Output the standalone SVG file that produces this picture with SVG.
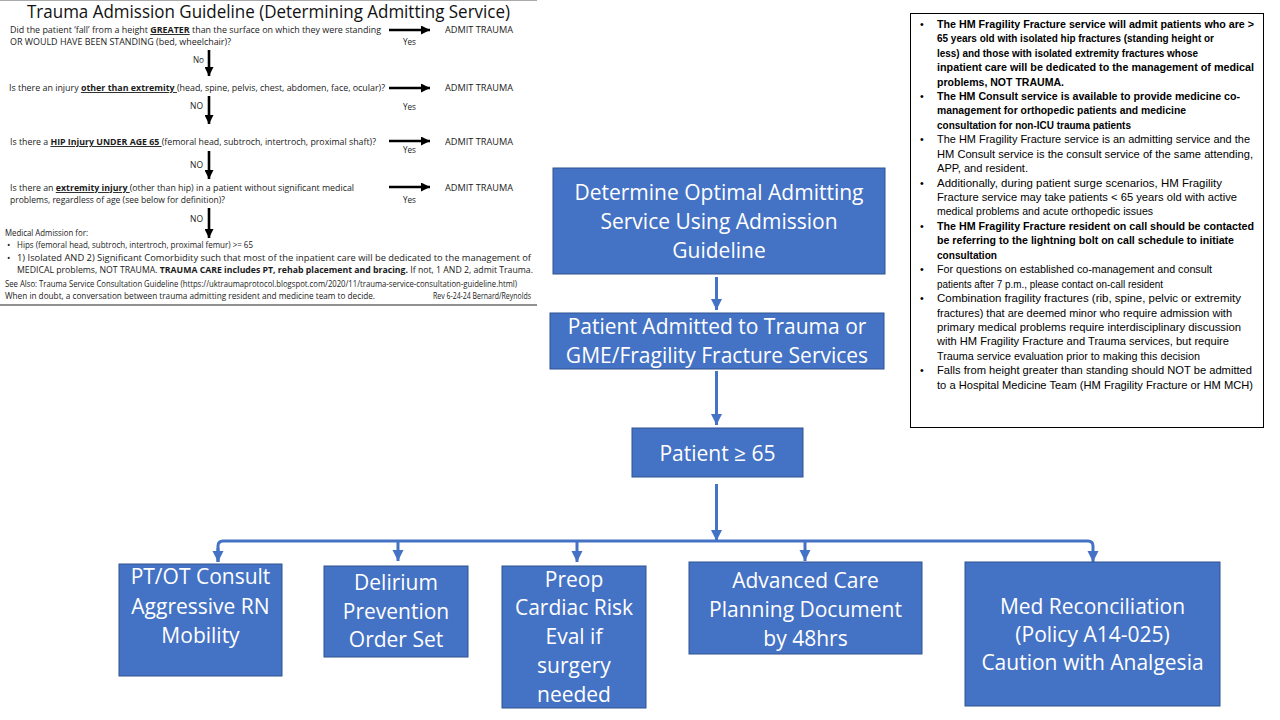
<svg xmlns="http://www.w3.org/2000/svg" width="1280" height="720" viewBox="0 0 1280 720">
<style>
.g{font-family:"Open Sans","Liberation Sans",sans-serif;font-size:9px;fill:#1a1a1a}
.b{font-weight:bold}
.u{text-decoration:underline}
.rt{font-family:"Liberation Sans","Open Sans",sans-serif;font-size:10.7px;fill:#000}
.nb{fill:#4472C4;stroke:#2F528F;stroke-width:1}
.nt{font-family:"Open Sans","Liberation Sans",sans-serif;font-size:21px;fill:#fff;text-anchor:middle}
.ka{stroke:#000;stroke-width:2.6;fill:none}
.ca{stroke:#4472C4;stroke-width:3;fill:none}
</style>
<defs>
<marker id="bh" viewBox="0 0 10 10" refX="10" refY="5" markerWidth="10" markerHeight="9" markerUnits="userSpaceOnUse" orient="auto"><path d="M0,0 L10,5 L0,10 z" fill="#000"/></marker>
<marker id="ah" viewBox="0 0 10 10" refX="10" refY="5" markerWidth="11" markerHeight="13" markerUnits="userSpaceOnUse" orient="auto"><path d="M0,0 L10,5 L0,10 z" fill="#4472C4"/></marker>
</defs>
<rect width="1280" height="720" fill="#fff"/>

<g id="guideline">
<line x1="0" y1="0.5" x2="537" y2="0.5" stroke="#aaa" stroke-width="1"/>
<line x1="0" y1="305" x2="537" y2="305" stroke="#222" stroke-width="1.2"/>
<text x="27" y="18" font-family="Open Sans, Liberation Sans, sans-serif" font-size="18.5" fill="#111" textLength="483" lengthAdjust="spacingAndGlyphs">Trauma Admission Guideline (Determining Admitting Service)</text>
<text class="g" x="10" y="33" textLength="371" lengthAdjust="spacingAndGlyphs">Did the patient ‘fall’ from a height <tspan class="b u">GREATER</tspan> than the surface on which they were standing</text>
<text class="g" x="10" y="45" textLength="221" lengthAdjust="spacingAndGlyphs">OR WOULD HAVE BEEN STANDING (bed, wheelchair)?</text>
<text class="g" x="445" y="33" textLength="68" lengthAdjust="spacingAndGlyphs">ADMIT TRAUMA</text>
<text class="g" x="403" y="45" textLength="13" lengthAdjust="spacingAndGlyphs">Yes</text>
<text class="g" x="193" y="63" textLength="11" lengthAdjust="spacingAndGlyphs">No</text>
<text class="g" x="9" y="91" textLength="376" lengthAdjust="spacingAndGlyphs">Is there an injury <tspan class="b u">other than extremity </tspan>(head, spine, pelvis, chest, abdomen, face, ocular)?</text>
<text class="g" x="445" y="91" textLength="68" lengthAdjust="spacingAndGlyphs">ADMIT TRAUMA</text>
<text class="g" x="190" y="109" textLength="13" lengthAdjust="spacingAndGlyphs">NO</text>
<text class="g" x="403" y="110" textLength="13" lengthAdjust="spacingAndGlyphs">Yes</text>
<text class="g" x="10" y="145" textLength="366" lengthAdjust="spacingAndGlyphs">Is there a <tspan class="b u">HIP Injury UNDER AGE 65 </tspan>(femoral head, subtroch, intertroch, proximal shaft)?</text>
<text class="g" x="445" y="145" textLength="68" lengthAdjust="spacingAndGlyphs">ADMIT TRAUMA</text>
<text class="g" x="403" y="153" textLength="13" lengthAdjust="spacingAndGlyphs">Yes</text>
<text class="g" x="190" y="168" textLength="13" lengthAdjust="spacingAndGlyphs">NO</text>
<text class="g" x="10" y="191" textLength="344" lengthAdjust="spacingAndGlyphs">Is there an <tspan class="b u">extremity injury </tspan>(other than hip) in a patient without significant medical</text>
<text class="g" x="10" y="203" textLength="215" lengthAdjust="spacingAndGlyphs">problems, regardless of age (see below for definition)?</text>
<text class="g" x="445" y="191" textLength="68" lengthAdjust="spacingAndGlyphs">ADMIT TRAUMA</text>
<text class="g" x="403" y="203" textLength="13" lengthAdjust="spacingAndGlyphs">Yes</text>
<text class="g" x="190" y="222" textLength="13" lengthAdjust="spacingAndGlyphs">NO</text>
<text class="g" x="5" y="236" textLength="83" lengthAdjust="spacingAndGlyphs">Medical Admission for:</text>
<text class="g" x="7" y="248">•</text>
<text class="g" x="17" y="248" textLength="236" lengthAdjust="spacingAndGlyphs">Hips (femoral head, subtroch, intertroch, proximal femur) &gt;= 65</text>
<text class="g" x="7" y="261">•</text>
<text class="g" x="17" y="261" textLength="514" lengthAdjust="spacingAndGlyphs">1) Isolated AND 2) Significant Comorbidity such that most of the inpatient care will be dedicated to the management of</text>
<text class="g" x="17" y="273" textLength="516" lengthAdjust="spacingAndGlyphs">MEDICAL problems, NOT TRAUMA. <tspan class="b">TRAUMA CARE includes PT, rehab placement and bracing.</tspan> If not, 1 AND 2, admit Trauma.</text>
<text class="g" x="5" y="287" font-size="8.2" textLength="512" lengthAdjust="spacingAndGlyphs">See Also: Trauma Service Consultation Guideline (https://uktraumaprotocol.blogspot.com/2020/11/trauma-service-consultation-guideline.html)</text>
<text class="g" x="5" y="299" textLength="370" lengthAdjust="spacingAndGlyphs">When in doubt, a conversation between trauma admitting resident and medicine team to decide.</text>
<text class="g" x="433" y="299" font-size="6" textLength="98" lengthAdjust="spacingAndGlyphs">Rev 6-24-24 Bernard/Reynolds</text>
<line class="ka" x1="389" y1="30" x2="430" y2="30" marker-end="url(#bh)"/>
<line class="ka" x1="389" y1="88" x2="430" y2="88" marker-end="url(#bh)"/>
<line class="ka" x1="389" y1="141" x2="430" y2="141" marker-end="url(#bh)"/>
<line class="ka" x1="389" y1="187" x2="430" y2="187" marker-end="url(#bh)"/>
<line class="ka" x1="209" y1="50" x2="209" y2="76" marker-end="url(#bh)"/>
<line class="ka" x1="209" y1="96" x2="209" y2="124" marker-end="url(#bh)"/>
<line class="ka" x1="209" y1="151" x2="209" y2="179" marker-end="url(#bh)"/>
<line class="ka" x1="209" y1="208" x2="209" y2="238" marker-end="url(#bh)"/>
</g>

<g id="notes">
<rect x="910.5" y="13.5" width="353" height="414" fill="#fff" stroke="#000" stroke-width="1"/>
<g class="rt">
<text x="920" y="27.7">•</text><text x="920" y="99.9">•</text><text x="920" y="143.2">•</text><text x="920" y="186.5">•</text><text x="920" y="229.8">•</text><text x="920" y="273.1">•</text><text x="920" y="302">•</text><text x="920" y="374.2">•</text>
<text class="b" x="937" y="27.7" textLength="317" lengthAdjust="spacingAndGlyphs">The HM Fragility Fracture service will admit patients who are &gt;</text>
<text class="b" x="937" y="42.1" textLength="277" lengthAdjust="spacingAndGlyphs">65 years old with isolated hip fractures (standing height or</text>
<text class="b" x="937" y="56.6" textLength="261" lengthAdjust="spacingAndGlyphs">less) and those with isolated extremity fractures whose</text>
<text class="b" x="937" y="71" textLength="317" lengthAdjust="spacingAndGlyphs">inpatient care will be dedicated to the management of medical</text>
<text class="b" x="937" y="85.5" textLength="127" lengthAdjust="spacingAndGlyphs">problems, NOT TRAUMA.</text>
<text class="b" x="937" y="99.9" textLength="303" lengthAdjust="spacingAndGlyphs">The HM Consult service is available to provide medicine co-</text>
<text class="b" x="937" y="114.3" textLength="249" lengthAdjust="spacingAndGlyphs">management for orthopedic patients and medicine</text>
<text class="b" x="937" y="128.8" textLength="194" lengthAdjust="spacingAndGlyphs">consultation for non-ICU trauma patients</text>
<text x="937" y="143.2" textLength="313" lengthAdjust="spacingAndGlyphs">The HM Fragility Fracture service is an admitting service and the</text>
<text x="937" y="157.7" textLength="316" lengthAdjust="spacingAndGlyphs">HM Consult service is the consult service of the same attending,</text>
<text x="937" y="172.1" textLength="91" lengthAdjust="spacingAndGlyphs">APP, and resident.</text>
<text x="937" y="186.5" textLength="285" lengthAdjust="spacingAndGlyphs">Additionally, during patient surge scenarios, HM Fragility</text>
<text x="937" y="201" textLength="300" lengthAdjust="spacingAndGlyphs">Fracture service may take patients &lt; 65 years old with active</text>
<text x="937" y="215.4" textLength="216" lengthAdjust="spacingAndGlyphs">medical problems and acute orthopedic issues</text>
<text class="b" x="937" y="229.8" textLength="317" lengthAdjust="spacingAndGlyphs">The HM Fragility Fracture resident on call should be contacted</text>
<text class="b" x="937" y="244.3" textLength="297" lengthAdjust="spacingAndGlyphs">be referring to the lightning bolt on call schedule to initiate</text>
<text class="b" x="937" y="258.7" textLength="60" lengthAdjust="spacingAndGlyphs">consultation</text>
<text x="937" y="273.1" textLength="275" lengthAdjust="spacingAndGlyphs">For questions on established co-management and consult</text>
<text x="937" y="287.6" textLength="226" lengthAdjust="spacingAndGlyphs">patients after 7 p.m., please contact on-call resident</text>
<text x="937" y="302" textLength="304" lengthAdjust="spacingAndGlyphs">Combination fragility fractures (rib, spine, pelvic or extremity</text>
<text x="937" y="316.5" textLength="295" lengthAdjust="spacingAndGlyphs">fractures) that are deemed minor who require admission with</text>
<text x="937" y="330.9" textLength="304" lengthAdjust="spacingAndGlyphs">primary medical problems require interdisciplinary discussion</text>
<text x="937" y="345.3" textLength="292" lengthAdjust="spacingAndGlyphs">with HM Fragility Fracture and Trauma services, but require</text>
<text x="937" y="359.8" textLength="263" lengthAdjust="spacingAndGlyphs">Trauma service evaluation prior to making this decision</text>
<text x="937" y="374.2" textLength="315" lengthAdjust="spacingAndGlyphs">Falls from height greater than standing should NOT be admitted</text>
<text x="937" y="388.7" textLength="316" lengthAdjust="spacingAndGlyphs">to a Hospital Medicine Team (HM Fragility Fracture or HM MCH)</text>
</g>
</g>

<g id="connectors">
<line class="ca" x1="716.5" y1="277" x2="716.5" y2="310" marker-end="url(#ah)"/>
<line class="ca" x1="716.5" y1="371" x2="716.5" y2="425" marker-end="url(#ah)"/>
<line class="ca" x1="716.5" y1="484" x2="716.5" y2="541" marker-end="url(#ah)"/>
<path class="ca" d="M218,562 V546 Q218,541 223,541 H1088 Q1093,541 1093,546 V562" marker-end="url(#ah)"/>
<line class="ca" x1="218" y1="548" x2="218" y2="562" marker-end="url(#ah)"/>
<line class="ca" x1="398" y1="541" x2="398" y2="561" marker-end="url(#ah)"/>
<line class="ca" x1="577" y1="541" x2="577" y2="562" marker-end="url(#ah)"/>
<line class="ca" x1="805" y1="541" x2="805" y2="561" marker-end="url(#ah)"/>
</g>

<g id="n-determine">
<rect class="nb" x="553" y="168" width="332" height="106"/>
<text class="nt" x="719" y="199.5">Determine Optimal Admitting</text>
<text class="nt" x="719" y="228.5">Service Using Admission</text>
<text class="nt" x="719" y="257.5">Guideline</text>
</g>
<g id="n-admitted">
<rect class="nb" x="550" y="313" width="334" height="56"/>
<text class="nt" x="717" y="333.5">Patient Admitted to Trauma or</text>
<text class="nt" x="717" y="362.5">GME/Fragility Fracture Services</text>
</g>
<g id="n-age">
<rect class="nb" x="632" y="428" width="171" height="49"/>
<text class="nt" x="717.5" y="460.5">Patient ≥ 65</text>
</g>
<g id="n-ptot">
<rect class="nb" x="119" y="564" width="163" height="112"/>
<text class="nt" x="200.5" y="584">PT/OT Consult</text>
<text class="nt" x="200.5" y="614">Aggressive RN</text>
<text class="nt" x="200.5" y="643">Mobility</text>
</g>
<g id="n-delirium">
<rect class="nb" x="324" y="566" width="144" height="91"/>
<text class="nt" x="396" y="590">Delirium</text>
<text class="nt" x="396" y="618.5">Prevention</text>
<text class="nt" x="396" y="647">Order Set</text>
</g>
<g id="n-preop">
<rect class="nb" x="502" y="566" width="144" height="142"/>
<text class="nt" x="574" y="587">Preop</text>
<text class="nt" x="574" y="615">Cardiac Risk</text>
<text class="nt" x="574" y="644">Eval if</text>
<text class="nt" x="574" y="673">surgery</text>
<text class="nt" x="574" y="702">needed</text>
</g>
<g id="n-acp">
<rect class="nb" x="689" y="562" width="233" height="92"/>
<text class="nt" x="805.5" y="587.5">Advanced Care</text>
<text class="nt" x="805.5" y="617">Planning Document</text>
<text class="nt" x="805.5" y="646">by 48hrs</text>
</g>
<g id="n-med">
<rect class="nb" x="965" y="562" width="255" height="144"/>
<text class="nt" x="1092.5" y="613.5">Med Reconciliation</text>
<text class="nt" x="1092.5" y="642">(Policy A14-025)</text>
<text class="nt" x="1092.5" y="670">Caution with Analgesia</text>
</g>
</svg>
